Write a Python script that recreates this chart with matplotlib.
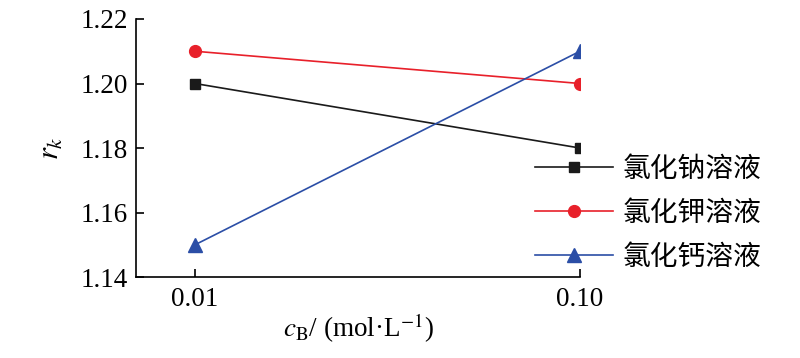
import matplotlib
matplotlib.use("Agg")
import matplotlib.pyplot as plt
from matplotlib.font_manager import FontProperties

# concentration categories and r_k values
concentrations = ["0.01", "0.10"]
nacl_values = [1.20, 1.18]
kcl_values = [1.21, 1.20]
cacl2_values = [1.15, 1.21]
series_labels = ["氯化钠溶液", "氯化钾溶液", "氯化钙溶液"]
y_ticks = [1.14, 1.16, 1.18, 1.20, 1.22]

plt.rcParams.update(
    {
        "font.family": ["Liberation Serif", "Noto Sans CJK SC"],
        "mathtext.fontset": "stix",
        "font.size": 19.5,
        "axes.linewidth": 1.2,
        "xtick.direction": "in",
        "ytick.direction": "in",
        "xtick.major.size": 5.5,
        "ytick.major.size": 5.5,
        "xtick.major.width": 1.2,
        "ytick.major.width": 1.2,
    }
)

fig = plt.figure(figsize=(8.0, 3.58), dpi=100)
ax = fig.add_axes([0.17, 0.226, 0.555, 0.721])

x = list(range(len(concentrations)))
ax.plot(x, nacl_values, color="#1a1a1a", lw=1.2, marker="s", ms=7,
        label=series_labels[0])
ax.plot(x, kcl_values, color="#e8202a", lw=1.2, marker="o", ms=8.5,
        label=series_labels[1])
ax.plot(x, cacl2_values, color="#2b4ea6", lw=1.2, marker="^", ms=10,
        label=series_labels[2])

ax.set_xlim(-0.153, 1.0)
ax.set_ylim(1.14, 1.22)
ax.set_xticks(x)
ax.set_xticklabels(concentrations)
ax.set_yticks(y_ticks)
ax.set_yticklabels([f"{v:.2f}" for v in y_ticks])
ax.tick_params(axis="x", pad=7)
ax.tick_params(axis="y", pad=6)

for side in ("top", "right"):
    ax.spines[side].set_visible(False)

ax.set_xlabel(r"$c_\mathrm{B}$/ (mol·L$^{-1}$)", fontsize=19.5, labelpad=0)
ax.set_ylabel(r"$r_k$", fontsize=22, labelpad=10)

ax.legend(
    loc="center left",
    bbox_to_anchor=(0.669, 0.405),
    bbox_transform=fig.transFigure,
    frameon=False,
    borderpad=0,
    borderaxespad=0,
    handlelength=2.8,
    handletextpad=0.35,
    labelspacing=0.5,
    prop=FontProperties(family="Noto Sans CJK SC", size=20),
)

fig.savefig("out.png", dpi=100)
